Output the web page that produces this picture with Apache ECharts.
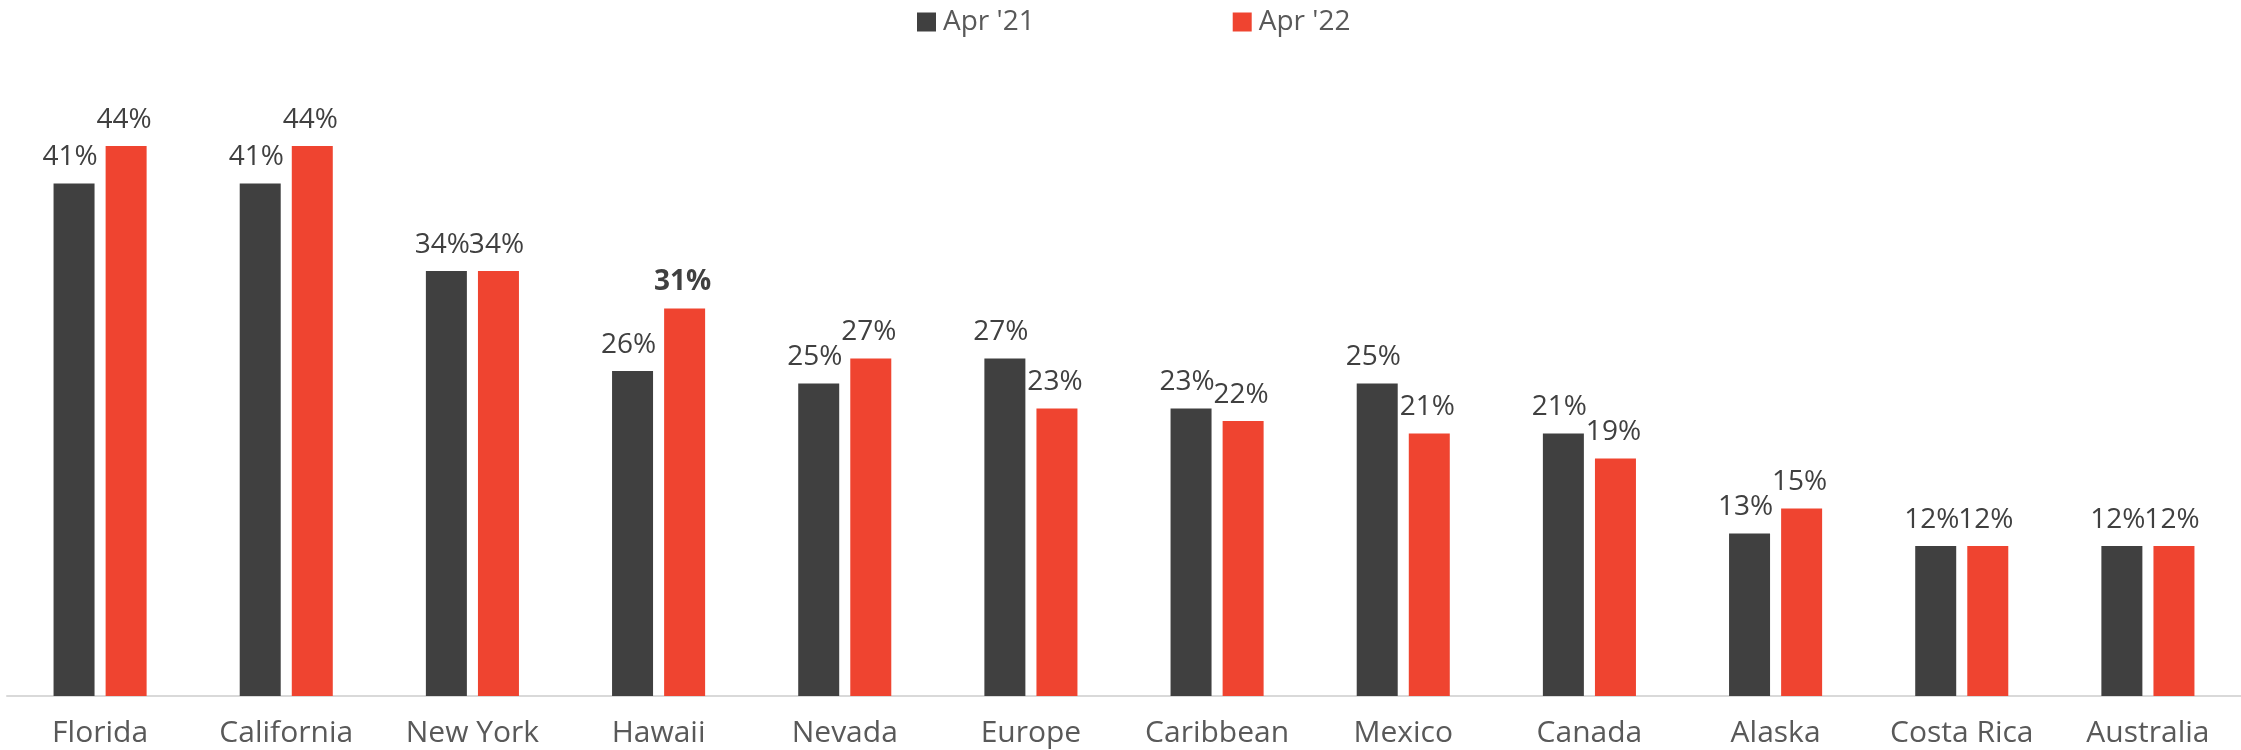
<!DOCTYPE html>
<html><head><meta charset="utf-8">
<script src="https://cdn.jsdelivr.net/npm/echarts@6/dist/echarts.min.js"></script>
<style>html,body{margin:0;padding:0;background:#fff}#c{width:2241px;height:750px}</style>
</head><body><div id="c"></div>
<script>
const categories = ['Florida','California','New York','Hawaii','Nevada','Europe','Caribbean','Mexico','Canada','Alaska','Costa Rica','Australia'];
const apr21 = [41,41,34,26,25,27,23,25,21,13,12,12];
const apr22 = [44,44,34,31,27,23,22,21,19,15,12,12];
const boldIndex22 = [3];
const FONT = '"Open Sans", Lato, sans-serif';
const chart = echarts.init(document.getElementById('c'));
const lbl = {show:true, position:'top', distance:12, formatter:'{c}%', fontFamily:FONT, fontSize:28, color:'#404040'};
chart.setOption({
  animation:false,
  legend:{top:3, left:912, itemWidth:19, itemHeight:19, itemGap:198, icon:'rect',
    textStyle:{fontFamily:FONT, fontSize:28, color:'#595959', padding:[0,0,0,2]},
    data:['Apr \'21','Apr \'22']},
  grid:{left:7, right:0, top:71, bottom:54},
  xAxis:{type:'category', data:categories,
    axisLine:{lineStyle:{color:'#d9d9d9', width:2}}, axisTick:{show:false},
    axisLabel:{interval:0, hideOverlap:false, fontFamily:FONT, fontSize:30, color:'#595959', margin:22}},
  yAxis:{type:'value', min:0, max:50, show:false, splitLine:{show:false}},
  series:[
    {name:'Apr \'21', type:'bar', data:apr21, barWidth:41, barGap:'27%', itemStyle:{color:'#404040'},
      label:Object.assign({}, lbl, {offset:[-4,0]})},
    {name:'Apr \'22', type:'bar', itemStyle:{color:'#EF4430'}, barWidth:41,
      data:apr22.map((v,i)=> boldIndex22.includes(i) ? {value:v, label:{fontWeight:'bold'}} : v),
      label:Object.assign({}, lbl, {offset:[-2,0]})}
  ]
});
</script></body></html>
